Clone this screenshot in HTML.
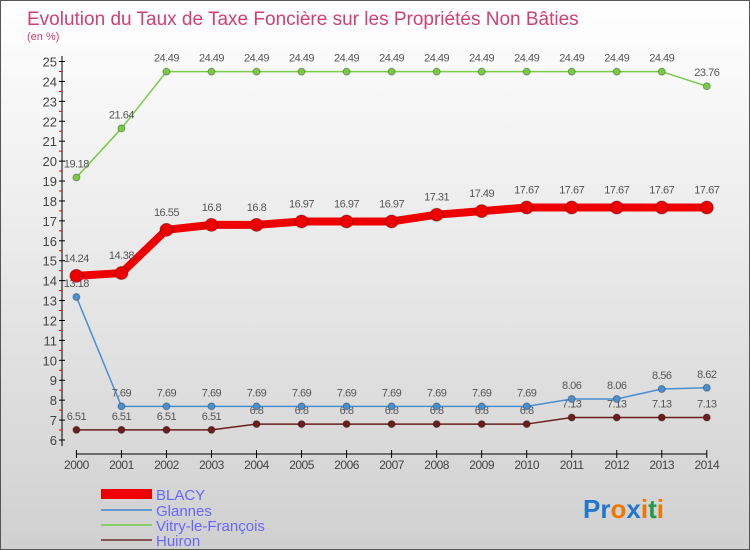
<!DOCTYPE html>
<html><head><meta charset="utf-8"><style>
body{margin:0}
#c{position:relative;width:750px;height:550px;background:linear-gradient(#ffffff,#d0d0d0);font-family:"Liberation Sans",sans-serif;overflow:hidden;box-sizing:border-box;border:1px solid #555}
</style></head><body>
<div id="c">
<svg width="750" height="550" style="position:absolute;left:0;top:0" id="svg">
<text x="26" y="24" font-size="19" fill="#d04070">Evolution du Taux de Taxe Foncière sur les Propriétés Non Bâties</text>
<text x="26" y="39" font-size="11" fill="#d04070">(en %)</text>
<g id="axes"></g><g id="series"></g>
<g font-size="15" fill="#6666ff">
<rect x="100" y="488" width="51" height="10" fill="#ee0000"/>
<text x="155" y="499">BLACY</text>
<rect x="100" y="508" width="51" height="2" fill="#6699cc"/>
<text x="155" y="515">Glannes</text>
<rect x="100" y="523" width="51" height="2" fill="#88cc66"/>
<text x="155" y="530">Vitry-le-François</text>
<rect x="100" y="538" width="51" height="2" fill="#885555"/>
<text x="155" y="545">Huiron</text>
</g>
<text x="582" y="517" font-size="26" font-weight="bold"><tspan fill="#2277cc">Pr</tspan><tspan fill="#ee7700">o</tspan><tspan fill="#2277cc">x</tspan><tspan fill="#ee7700">i</tspan><tspan fill="#229944">t</tspan><tspan fill="#ee7700">i</tspan></text>
</svg>
</div>
<script>
const years=[2000,2001,2002,2003,2004,2005,2006,2007,2008,2009,2010,2011,2012,2013,2014];
const blacy=[14.24,14.38,16.55,16.8,16.8,16.97,16.97,16.97,17.31,17.49,17.67,17.67,17.67,17.67,17.67];
const glannes=[13.18,7.69,7.69,7.69,7.69,7.69,7.69,7.69,7.69,7.69,7.69,8.06,8.06,8.56,8.62];
const vitry=[19.18,21.64,24.49,24.49,24.49,24.49,24.49,24.49,24.49,24.49,24.49,24.49,24.49,24.49,23.76];
const huiron=[6.51,6.51,6.51,6.51,6.8,6.8,6.8,6.8,6.8,6.8,6.8,7.13,7.13,7.13,7.13];
const yTicks=[6,7,8,9,10,11,12,13,14,15,16,17,18,19,20,21,22,23,24,25];
const NS="http://www.w3.org/2000/svg";
const xs=i=>75.4+i*(705.8-75.4)/(years.length-1);
const ys=v=>439-(v-6)*(439-60.5)/19;
function mk(t,a,p){const e=document.createElementNS(NS,t);for(const k in a)e.setAttribute(k,a[k]);p.appendChild(e);return e;}
const ax=document.getElementById('axes');
const yl=mk('line',{x1:61,y1:55,x2:61,y2:445,stroke:'#000'},ax);


yTicks.forEach(v=>{
 mk('line',{x1:58,x2:64,y1:ys(v),y2:ys(v),stroke:'#000'},ax);
 if(v<25) mk('line',{x1:58,x2:61,y1:ys(v+0.5),y2:ys(v+0.5),stroke:'#e00'},ax);
 const t=mk('text',{x:56,y:ys(v)+5,'text-anchor':'end','font-size':13,fill:'#444'},ax);t.textContent=v;
 
 
});
const xl=mk('line',{x1:75,y1:453,x2:706,y2:453,stroke:'#000'},ax);


years.forEach((y,i)=>{
 mk('line',{x1:xs(i),x2:xs(i),y1:449,y2:457,stroke:'#000'},ax);
 const t=mk('text',{x:xs(i),y:468,'text-anchor':'middle','font-size':12,fill:'#444','letter-spacing':'-0.5'},ax);t.textContent=y;
 
 
});
const sg=document.getElementById('series');
function series(name,data,color,w,r,labelDy){
 const g=mk('g',{},sg);
 
 
 const pl=mk('polyline',{points:data.map((v,i)=>xs(i)+','+ys(v)).join(' '),fill:'none',stroke:color,'stroke-width':w,'stroke-linejoin':'round'},g);
 
 
 data.forEach((v,i)=>{
  const c=mk('circle',{cx:xs(i),cy:ys(v),r:r,fill:color,stroke:'rgba(0,0,0,0.3)','stroke-width':1},g);
  
  
  const t=mk('text',{x:xs(i),y:ys(v)+labelDy,'text-anchor':'middle','font-size':11,fill:'#555','letter-spacing':'-0.5'},g);t.textContent=v;
  
  
 });
}
series('huiron',huiron,'#6b1e1e',1.5,3.5,-10);
series('glannes',glannes,'#4a90d0',1.5,3.5,-10);
series('vitry',vitry,'#77cc44',1.5,3.5,-10);
series('blacy',blacy,'#ee0000',8,6.5,-14);
</script>
</body></html>
